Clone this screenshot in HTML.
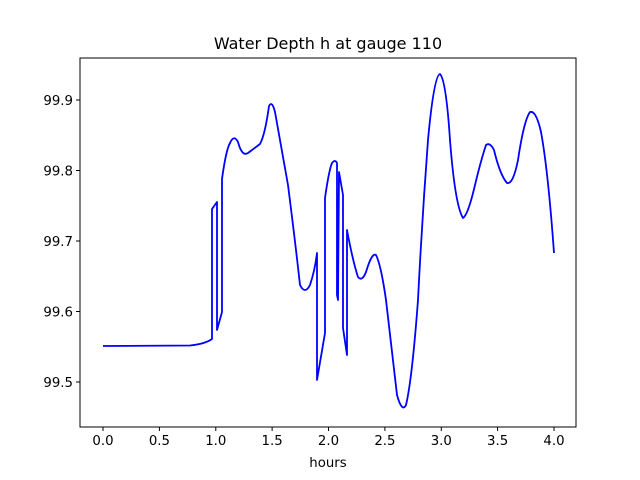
<!DOCTYPE html>
<html><head><style>body{margin:0;background:#fff}svg{display:block}text{font-family:"DejaVu Sans","Liberation Sans",sans-serif;font-size:13.3px;fill:#000}</style></head>
<body><svg width="640" height="480" viewBox="0 0 640 480">
<rect x="80" y="58" width="496" height="369" fill="#fff" stroke="#000" stroke-width="1"/>
<g stroke="#000" stroke-width="1">
<line x1="103" y1="427" x2="103" y2="431"/><line x1="159.4" y1="427" x2="159.4" y2="431"/><line x1="215.8" y1="427" x2="215.8" y2="431"/><line x1="272.1" y1="427" x2="272.1" y2="431"/><line x1="328.5" y1="427" x2="328.5" y2="431"/><line x1="384.9" y1="427" x2="384.9" y2="431"/><line x1="441.3" y1="427" x2="441.3" y2="431"/><line x1="497.6" y1="427" x2="497.6" y2="431"/><line x1="554" y1="427" x2="554" y2="431"/>
<line x1="76" y1="382" x2="80" y2="382"/><line x1="76" y1="311.5" x2="80" y2="311.5"/><line x1="76" y1="241" x2="80" y2="241"/><line x1="76" y1="170.5" x2="80" y2="170.5"/><line x1="76" y1="100" x2="80" y2="100"/>
</g>
<g text-anchor="middle"><text x="103" y="445">0.0</text><text x="159.4" y="445">0.5</text><text x="215.8" y="445">1.0</text><text x="272.1" y="445">1.5</text><text x="328.5" y="445">2.0</text><text x="384.9" y="445">2.5</text><text x="441.3" y="445">3.0</text><text x="497.6" y="445">3.5</text><text x="554" y="445">4.0</text>
<text x="328" y="467">hours</text><text x="328" y="49" style="font-size:16px">Water Depth h at gauge 110</text></g>
<g text-anchor="end"><text x="73" y="387">99.5</text><text x="73" y="316.5">99.6</text><text x="73" y="246">99.7</text><text x="73" y="175.5">99.8</text><text x="73" y="105">99.9</text></g>
<path fill="none" stroke="#0000ff" stroke-width="1.8" stroke-linejoin="round" d="M103,346 L190,345.5 Q205,344 212,339 L212,209 L217,202 L217,330 L222,312 L222,179 Q226,150 230,143 Q234,134 238,142 Q242,157 248,153 Q256,147 260,144 Q265,135 269,106 Q272,100 275,112 Q280,140 288,185 Q295,240 300,285 Q305,295 310,285 Q315,270 317,253 L317,380 L325,333 L325,198 Q329,170 332,163 Q335,159 337,163 L337,295 L338,300 L339,172 L343,195 L343,328 L347,355 L347,230 Q353,262 358,277 Q362,282 366,272 Q372,252 376,255 Q381,265 386,300 Q392,350 397,395 Q402,413 406,405 Q412,380 418,300 Q422,220 428,140 Q434,75 440,74 Q446,80 450,140 Q455,205 463,218 Q468,215 475,185 Q481,160 486,145 Q490,142 494,150 Q500,175 507,183 Q513,185 518,160 Q524,120 530,112 Q536,110 541,132 Q548,170 554,253"/>
</svg></body></html>
